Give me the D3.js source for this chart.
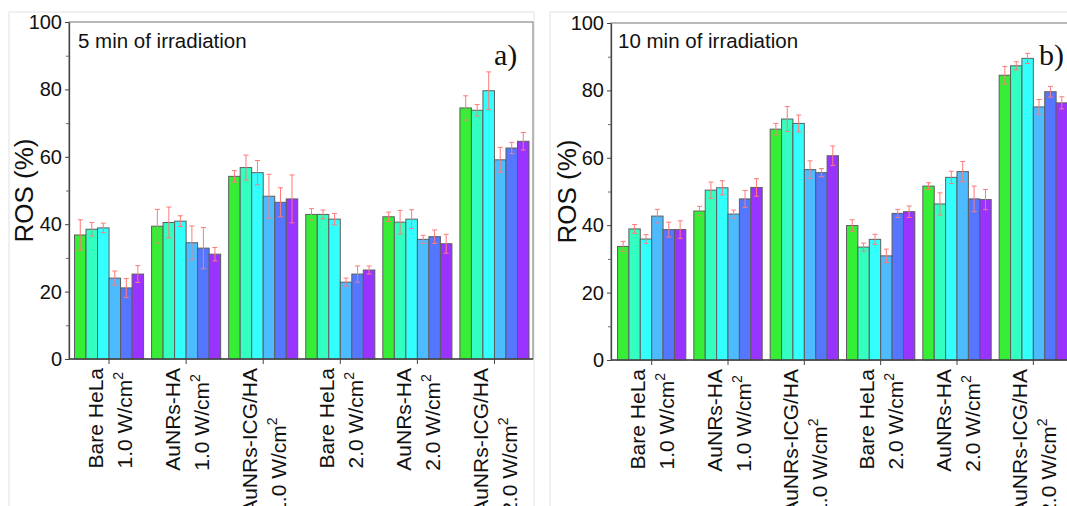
<!DOCTYPE html>
<html>
<head>
<meta charset="utf-8">
<script src="https://cdn.jsdelivr.net/npm/d3@7"></script>
<style>
  body { margin: 0; background: #fff; }
  svg { display: block; font-family: "Liberation Sans", Arial, sans-serif; }
</style>
</head>
<body>
<svg id="chart" width="1067" height="506"></svg>
<script>
// group names (first label line) and laser power (second line)
const groups = ["Bare HeLa", "AuNRs-HA", "AuNRs-ICG/HA", "Bare HeLa", "AuNRs-HA", "AuNRs-ICG/HA"];
const powers = ["1.0", "1.0", "1.0", "2.0", "2.0", "2.0"];
const series = ["s1", "s2", "s3", "s4", "s5", "s6"];
const colors = ["#36ee36", "#33ffc0", "#33ffff", "#4dbbff", "#5577ff", "#9933ff"];
const yTicks = [0, 20, 40, 60, 80, 100];

// 5 min of irradiation
const ros5 = [
  [36.8, 38.5, 38.9, 24.0, 21.1, 25.2],
  [39.4, 40.5, 40.9, 34.5, 32.9, 31.1],
  [54.2, 56.8, 55.3, 48.3, 46.5, 47.5],
  [42.9, 42.9, 41.5, 22.8, 25.2, 26.4],
  [42.2, 40.6, 41.5, 35.5, 36.3, 34.2],
  [74.5, 73.8, 79.6, 59.1, 62.6, 64.6]
];
const err5 = [
  [4.5, 2.0, 1.4, 2.1, 2.8, 2.5],
  [5.0, 4.6, 1.6, 5.0, 6.1, 2.0],
  [1.7, 3.7, 3.6, 6.5, 4.3, 7.1],
  [1.7, 1.3, 1.7, 1.2, 2.4, 1.2],
  [1.4, 3.5, 2.8, 1.2, 2.0, 2.8],
  [3.6, 1.7, 5.6, 3.7, 1.7, 2.6]
];

// 10 min of irradiation
const ros10 = [
  [33.7, 38.9, 35.9, 42.7, 38.7, 38.7],
  [44.2, 50.4, 51.1, 43.3, 47.8, 51.2],
  [68.5, 71.5, 70.2, 56.5, 55.6, 60.6],
  [39.9, 33.5, 35.8, 30.9, 43.5, 44.0],
  [51.6, 46.3, 54.2, 55.9, 47.8, 47.6],
  [84.5, 87.3, 89.5, 75.1, 79.6, 76.3]
];
const err10 = [
  [1.5, 1.3, 1.3, 2.0, 2.2, 2.6],
  [1.4, 2.4, 2.1, 1.2, 2.5, 2.6],
  [1.7, 3.7, 2.5, 2.6, 1.2, 2.9],
  [1.7, 1.2, 1.5, 2.0, 1.2, 1.7],
  [1.0, 3.3, 1.8, 3.0, 3.8, 3.0],
  [2.6, 1.2, 1.5, 2.2, 1.6, 1.8]
];

const svg = d3.select("#chart");
svg.append("rect").attr("width", 1067).attr("height", 506).attr("fill", "#fff");

function drawPanel(p) {
  const g = svg.append("g");

  // light outer frame of the sub-figure
  g.append("rect")
    .attr("x", p.frameX).attr("y", 12)
    .attr("width", p.frameW).attr("height", 520)
    .attr("fill", "none").attr("stroke", "#e2e2e2");

  const x0 = d3.scaleBand().domain(d3.range(groups.length)).range([p.bandL, p.bandR]);
  const x1 = d3.scaleBand().domain(series).range([4, x0.step() - 4]);
  const y = d3.scaleLinear().domain([0, 100]).range([p.bottom, p.top]);

  // plot box
  g.append("rect")
    .attr("x", p.left).attr("y", p.top)
    .attr("width", p.right - p.left).attr("height", p.bottom - p.top)
    .attr("fill", "none").attr("stroke", "#8a8a8a").attr("stroke-width", 1.2);

  // bars
  const grp = g.selectAll(".grp")
    .data(p.values)
    .enter().append("g")
    .attr("transform", (d, i) => `translate(${x0(i)},0)`);

  grp.selectAll("rect")
    .data(d => d)
    .enter().append("rect")
    .attr("x", (d, j) => x1(series[j]))
    .attr("y", d => y(d))
    .attr("width", x1.bandwidth())
    .attr("height", d => y(0) - y(d))
    .attr("fill", (d, j) => colors[j])
    .attr("stroke", "#5e5e5e")
    .attr("stroke-width", 1);

  // error bars
  grp.each(function (vals, i) {
    const eg = d3.select(this);
    vals.forEach((v, j) => {
      const e = p.errors[i][j];
      const cx = x1(series[j]) + x1.bandwidth() / 2;
      const c = eg.append("g").attr("stroke", "#ff7a7a").attr("stroke-width", 1);
      c.append("line").attr("x1", cx).attr("x2", cx).attr("y1", y(v + e)).attr("y2", y(v - e));
      c.append("line").attr("x1", cx - 2.5).attr("x2", cx + 2.5).attr("y1", y(v + e)).attr("y2", y(v + e));
      c.append("line").attr("x1", cx - 2.5).attr("x2", cx + 2.5).attr("y1", y(v - e)).attr("y2", y(v - e));
    });
  });

  // y axis
  const yAxis = g.append("g")
    .attr("transform", `translate(${p.left},0)`)
    .call(d3.axisLeft(y).tickValues(yTicks).tickSize(4).tickSizeOuter(0).tickPadding(3));
  yAxis.select(".domain").attr("stroke", "#444").attr("stroke-width", 1.3);
  yAxis.selectAll(".tick line").attr("stroke", "#444");
  yAxis.selectAll("text").attr("font-size", 20).attr("fill", "#111")
    .attr("font-family", "Liberation Sans, Arial, sans-serif");

  g.append("g")
    .attr("transform", `translate(${p.left},0)`)
    .call(d3.axisLeft(y).tickValues([10, 30, 50, 70, 90]).tickSize(3).tickFormat(""))
    .call(a => a.select(".domain").remove())
    .selectAll(".tick line").attr("stroke", "#666");

  // x axis
  const xAxis = g.append("g")
    .attr("transform", `translate(0,${p.bottom})`)
    .call(d3.axisBottom(x0).tickSize(5).tickSizeOuter(0).tickFormat(""));
  xAxis.select(".domain").attr("stroke", "#444").attr("stroke-width", 1.3)
    .attr("d", `M${p.left},0H${p.right}`);
  xAxis.selectAll(".tick line").attr("stroke", "#444");

  // rotated two-line tick labels, lines start-aligned at the bottom
  groups.forEach((name, i) => {
    const cx = x0(i) + x0.bandwidth() / 2;
    const t1 = g.append("text").attr("font-size", 21).attr("fill", "#111").text(name);
    const t2 = g.append("text").attr("font-size", 21).attr("fill", "#111");
    t2.append("tspan").text(powers[i] + " W/cm");
    t2.append("tspan").attr("font-size", 14).attr("dy", -9).text("2");
    const len = Math.max(t1.node().getComputedTextLength(), t2.node().getComputedTextLength());
    const yStart = p.bottom + 9 + len;
    t1.attr("transform", `translate(${cx - 6.5},${yStart}) rotate(-90)`);
    t2.attr("transform", `translate(${cx + 22.5},${yStart}) rotate(-90)`);
  });

  // y title
  g.append("text")
    .attr("transform", `translate(${p.titleX},${(p.top + p.bottom) / 2}) rotate(-90)`)
    .attr("text-anchor", "middle")
    .attr("font-size", 26).attr("fill", "#111")
    .text("ROS (%)");

  // panel caption
  g.append("text")
    .attr("x", p.left + p.capDx).attr("y", 48)
    .attr("font-size", 20.5).attr("fill", "#111")
    .text(p.caption);

  g.append("text")
    .attr("x", p.letterX).attr("y", 65)
    .attr("font-family", "Liberation Serif, Times New Roman, serif")
    .attr("font-size", 30).attr("fill", "#111")
    .text(p.letter);
}

drawPanel({
  frameX: 9, frameW: 525,
  left: 69, right: 533, top: 22, bottom: 359,
  bandL: 70.5, bandR: 533,
  titleX: 33, capDx: 9,
  caption: "5 min of irradiation", letter: "a)", letterX: 494,
  values: ros5, errors: err5
});

drawPanel({
  frameX: 550, frameW: 530,
  left: 611, right: 1072, top: 23, bottom: 360,
  bandL: 613.5, bandR: 1071.5,
  titleX: 576, capDx: 7,
  caption: "10 min of irradiation", letter: "b)", letterX: 1039,
  values: ros10, errors: err10
});
</script>
</body>
</html>
